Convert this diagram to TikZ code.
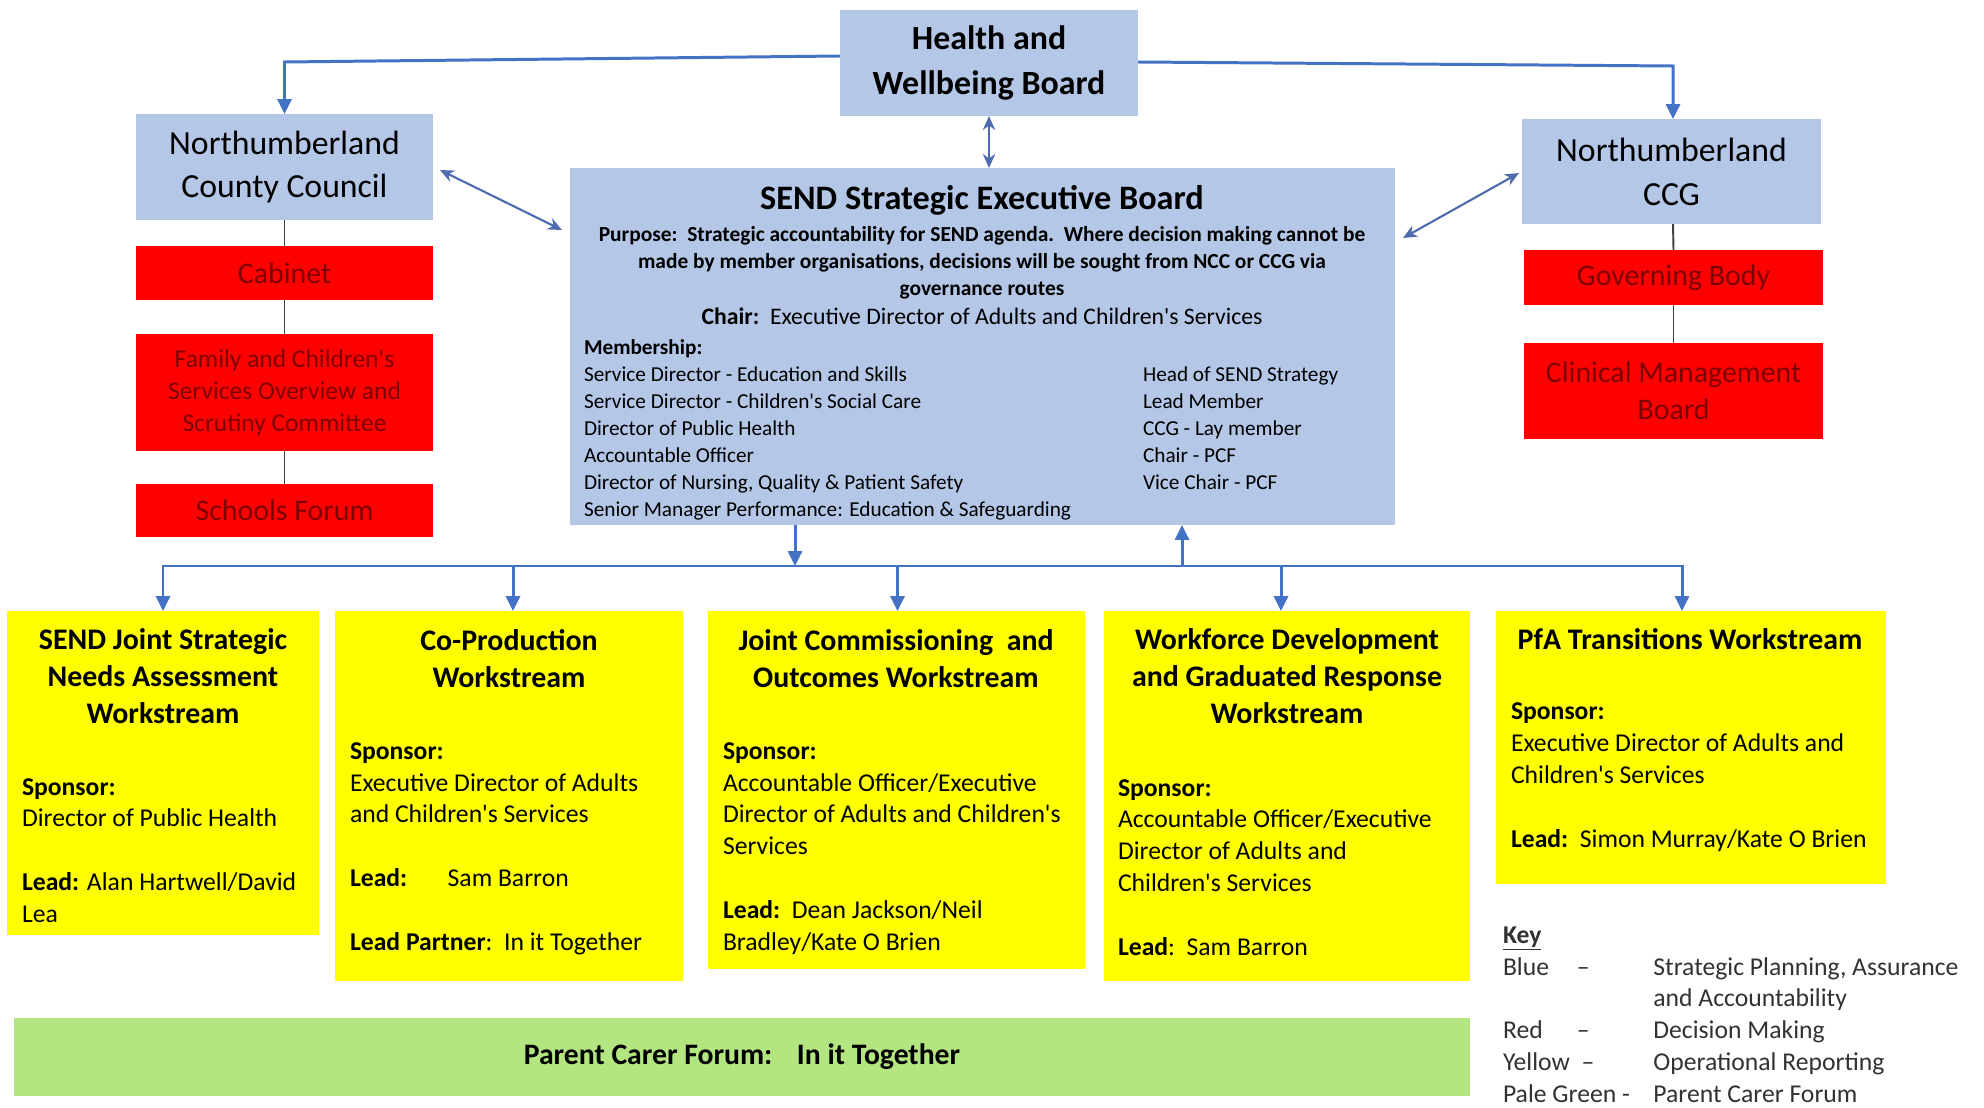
\documentclass[tikz,border=0pt]{standalone}
\usepackage{fontspec}
\setmainfont{Carlito}
\usetikzlibrary{arrows.meta,calc}

\definecolor{boardblue}{RGB}{180,199,231}
\definecolor{decred}{RGB}{255,0,0}
\definecolor{redtext}{RGB}{125,0,0}
\definecolor{opyellow}{RGB}{255,255,0}
\definecolor{pcfgreen}{RGB}{179,230,128}
\definecolor{linkblue}{RGB}{68,114,196}
\definecolor{pairblue}{RGB}{79,107,176}
\definecolor{stemgrey}{RGB}{64,64,64}
\definecolor{keygrey}{RGB}{50,50,50}

\newcommand\apos{\textquotesingle}

\tikzset{
  panel/.style={inner sep=0pt, outer sep=0pt, align=center},
  boxsize/.style 2 args={minimum width=#1*0.02cm, minimum height=#2*0.02cm},
  bluepanel/.style={panel, fill=boardblue},
  redpanel/.style={panel, fill=decred, text=redtext},
  yellowpanel/.style={panel, fill=opyellow},
  greenpanel/.style={panel, fill=pcfgreen},
  feed/.style={draw=linkblue, line width=1.7pt, -{Triangle[width=8pt,length=8.5pt]}},
  feedboth/.style={draw=linkblue, line width=1.7pt, {Triangle[width=8pt,length=8.5pt]}-{Triangle[width=8pt,length=8.5pt]}},
  twoway/.style={draw=pairblue, line width=1.2pt, {Stealth[width=7pt,length=8pt]}-{Stealth[width=7pt,length=8pt]}},
  stemline/.style={draw=stemgrey, line width=1.1pt},
  txt/.style={inner sep=0pt, outer sep=0pt},
  hwbfont/.style={font={\fontsize{19.3}{26}\selectfont\bfseries}},
  orgfont/.style={font={\fontsize{19.2}{25}\selectfont}},
  redbig/.style={font={\fontsize{17}{21}\selectfont}},
  redsmall/.style={font={\fontsize{14.5}{18.1}\selectfont}},
  sendtitle/.style={font={\fontsize{19.5}{24}\selectfont\bfseries}},
  purposefont/.style={font={\fontsize{12.2}{15.3}\selectfont\bfseries}},
  chairfont/.style={font={\fontsize{13.5}{15.3}\selectfont}},
  memberfont/.style={font={\fontsize{12.1}{15.3}\selectfont}},
  wtitle/.style={font={\fontsize{17}{21}\selectfont\bfseries}},
  wbody/.style={font={\fontsize{14.6}{18.1}\selectfont}},
  pcffont/.style={font={\fontsize{16.9}{21}\selectfont\bfseries}},
}

\begin{document}
\begin{tikzpicture}[x=0.02cm, y=-0.02cm]
\fill[white] (0,0) rectangle (1984,1108);
\useasboundingbox (0,0) rectangle (1984,1108);

% ---- governance boards ----
\node[bluepanel, hwbfont, boxsize={298}{106}] (hwb) at (989,63) {Health and\\Wellbeing Board};
\node[bluepanel, orgfont, boxsize={297}{106}] (ncc) at (284.5,167) {Northumberland\\County Council};
\node[bluepanel, orgfont, boxsize={299}{105}] (ccg) at (1671.5,171.5) {Northumberland\\CCG};

% ---- decision making (council side) ----
\node[redpanel, redbig, boxsize={297}{54}] (cab) at (284.5,273) {Cabinet};
\node[redpanel, redsmall, boxsize={297}{117}] (fam) at (284.5,392.5)
  {Family and Children\apos s\\Services Overview and\\Scrutiny Committee};
\node[redpanel, redbig, boxsize={297}{53}] (sch) at (284.5,510.5) {Schools Forum};

% ---- decision making (CCG side) ----
\node[redpanel, redbig, boxsize={299}{55}] (gov) at (1673.5,277.5) {Governing Body};
\node[redpanel, redbig, boxsize={299}{96}] (cmb) at (1673.5,391) {Clinical Management\\Board};

% ---- executive board ----
\node[bluepanel, boxsize={825}{357}] (send) at (982.5,346.5) {};
\node[txt, sendtitle, anchor=mid] (sendhead) at (982,205) {SEND Strategic Executive Board};
% multi-line texts are anchored on their last line
\node[txt, purposefont, align=center, anchor=mid] (purpose) at (982,291)
  {Purpose:\ \ Strategic accountability for SEND agenda.\ \ Where decision making cannot be\\
   made by member organisations, decisions will be sought from NCC or CCG via\\
   governance routes};
\node[txt, chairfont, anchor=mid] (chair) at (982,320)
  {\textbf{Chair:}\ \ Executive Director of Adults and Children\apos s Services};
\node[txt, memberfont, align=left, anchor=mid west] (members) at (584,512)
  {\textbf{Membership:}\\
   Service Director - Education and Skills\\
   Service Director - Children\apos s Social Care\\
   Director of Public Health\\
   Accountable Officer\\
   Director of Nursing, Quality \& Patient Safety\\
   Senior Manager Performance: Education \& Safeguarding};
\node[txt, memberfont, align=left, anchor=mid west] (members2) at (1143,485)
  {Head of SEND Strategy\\
   Lead Member\\
   CCG - Lay member\\
   Chair - PCF\\
   Vice Chair - PCF};

% ---- workstreams ----
\node[yellowpanel, boxsize={312}{324}] (w1) at (163,773) {};
\node[yellowpanel, boxsize={348}{370}] (w2) at (509,796) {};
\node[yellowpanel, boxsize={377}{358}] (w3) at (896.5,790) {};
\node[yellowpanel, boxsize={366}{370}] (w4) at (1287,796) {};
\node[yellowpanel, boxsize={390}{273}] (w5) at (1691,747.5) {};

\node[txt, wtitle, align=center, anchor=mid] (w1head) at (163,719)
  {SEND Joint Strategic\\Needs Assessment\\Workstream};
\node[txt, wbody, align=left, anchor=mid west] (w1text) at (22,918)
  {\textbf{Sponsor:}\\Director of Public Health\\[18.1pt]
   \textbf{Lead:} Alan Hartwell/David\\Lea};

\node[txt, wtitle, align=center, anchor=mid] (w2head) at (509,683)
  {Co-Production\\Workstream};
\node[txt, wbody, align=left, anchor=mid west] (w2text) at (350,946)
  {\textbf{Sponsor:}\\Executive Director of Adults\\and Children\apos s Services\\[18.1pt]
   \makebox[55.6pt][l]{\textbf{Lead:}}Sam Barron\\[18.1pt]
   \textbf{Lead Partner}:\ \ In it Together};

\node[txt, wtitle, align=center, anchor=mid] (w3head) at (896,683)
  {Joint Commissioning\ \ and\\Outcomes Workstream};
\node[txt, wbody, align=left, anchor=mid west] (w3text) at (723,946)
  {\textbf{Sponsor:}\\Accountable Officer/Executive\\Director of Adults and Children\apos s\\Services\\[18.1pt]
   \textbf{Lead:}\ \ Dean Jackson/Neil\\Bradley/Kate O Brien};

\node[txt, wtitle, align=center, anchor=mid] (w4head) at (1287,719)
  {Workforce Development\\and Graduated Response\\Workstream};
\node[txt, wbody, align=left, anchor=mid west] (w4text) at (1118,951)
  {\textbf{Sponsor:}\\Accountable Officer/Executive\\Director of Adults and\\Children\apos s Services\\[18.1pt]
   \textbf{Lead}:\ \ Sam Barron};

\node[txt, wtitle, align=center, anchor=mid] (w5head) at (1690,645)
  {PfA Transitions Workstream};
\node[txt, wbody, align=left, anchor=mid west] (w5text) at (1511,843)
  {\textbf{Sponsor:}\\Executive Director of Adults and\\Children\apos s Services\\[18.1pt]
   \textbf{Lead:}\ \ Simon Murray/Kate O Brien};

% ---- parent carer forum ----
\node[greenpanel, pcffont, boxsize={1456}{78}] (pcf) at (742,1057)
  {Parent Carer Forum:\hspace{14pt}In it Together};

% ---- key ----
\node[txt, wbody, text=keygrey, align=left, anchor=mid west] (key) at (1503,1098)
  {\underline{\textbf{Key}}\\
   \makebox[42pt][l]{Blue}\makebox[43.6pt][l]{--}Strategic Planning, Assurance\\
   \hspace*{85.6pt}and Accountability\\
   \makebox[42pt][l]{Red}\makebox[43.6pt][l]{--}Decision Making\\
   \makebox[44.8pt][l]{Yellow}\makebox[40.8pt][l]{--}Operational Reporting\\
   \makebox[85.6pt][l]{Pale Green -}Parent Carer Forum};

% ---- reporting lines from the Health and Wellbeing Board ----
\draw[feed] ($(hwb.west)+(0,-7)$) -- (ncc.north |- 0,62) -- (ncc.north);
\draw[feed] ($(hwb.east)+(0,-1)$) -- ($(ccg.north)+(1.5,-53)$) -- ($(ccg.north)+(1.5,0)$);
\draw[twoway] (hwb.south) -- (hwb.south |- send.north);
\draw[twoway] ($(ncc.east)+(7,3)$) -- ($(send.north west)+(-8,62)$);
\draw[twoway] ($(ccg.west)+(-3,1.5)$) -- ($(send.north east)+(8,70)$);

% ---- decision making chains ----
\draw[stemline] (ncc.south) -- (cab.north);
\draw[stemline] (cab.south) -- (fam.north);
\draw[stemline] (fam.south) -- (sch.north);
\draw[stemline] ($(ccg.south)+(1.5,0)$) -- (gov.north);
\draw[stemline] (gov.south) -- (cmb.north);

% ---- workstream bus ----
\coordinate (bus) at (0,566);
\coordinate (t1) at (w1.north);
\coordinate (t2) at ($(w2.north)+(4,0)$);
\coordinate (t3) at ($(w3.north)+(1,0)$);
\coordinate (t4) at ($(w4.north)+(-6,0)$);
\coordinate (t5) at ($(w5.north)+(-9,0)$);
\coordinate (sdown) at ($(send.south west)+(225,0)$);
\coordinate (sup) at ($(send.south west)+(612,0)$);
\draw[feedboth] (t1) -- (t1 |- bus) -- (t5 |- bus) -- (t5);
\draw[feed] (t2 |- bus) -- (t2);
\draw[feed] (t3 |- bus) -- (t3);
\draw[feed] (t4 |- bus) -- (t4);
\draw[feed] (sdown) -- (sdown |- bus);
\draw[feed] (sup |- bus) -- (sup);
\end{tikzpicture}
\end{document}
